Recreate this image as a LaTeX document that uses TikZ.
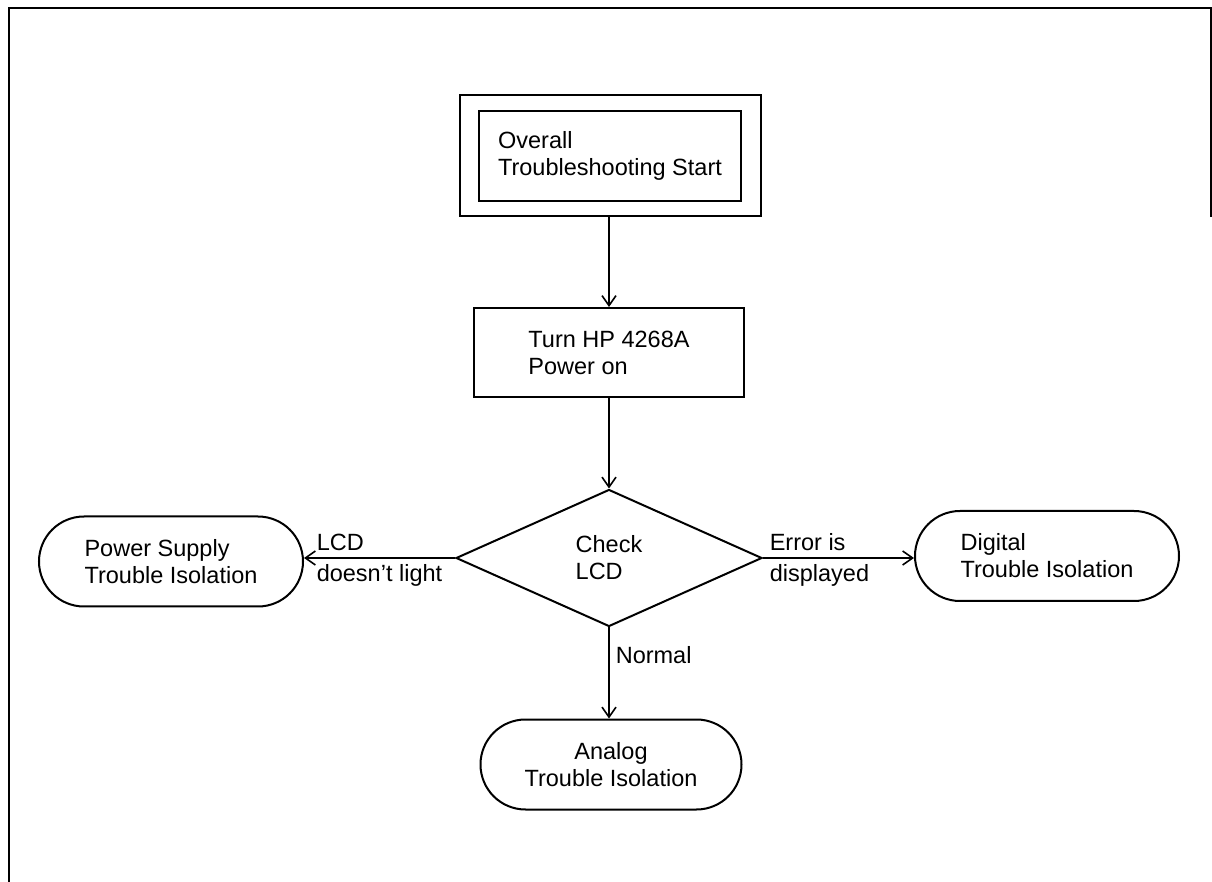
\documentclass[tikz,border=0pt]{standalone}
\usepackage{fontspec}
\setmainfont{Liberation Sans}
\usetikzlibrary{shapes.geometric,shapes.misc,arrows.meta,fit}

\begin{document}
\begin{tikzpicture}[x=0.5pt,y=-0.5pt,
  font=\fontsize{11.75}{13.5}\selectfont,
  procbox/.style={draw,line width=1pt,rectangle,align=left,inner sep=0pt},
  termbox/.style={draw,line width=1pt,rounded rectangle,minimum width=132pt,minimum height=45pt,inner sep=0pt},
  decision/.style={draw,line width=1pt,diamond,aspect=2.23,minimum width=153pt,minimum height=68.5pt,inner sep=0pt,align=left},
  flow/.style={line width=0.8pt,-{Straight Barb[length=5pt,width=7pt]}},
  lbl/.style={inner sep=3pt}]
\useasboundingbox (0,0) rectangle (1212,882);
% page frame
\draw[line width=1pt] (9,882) -- (9,8) -- (1211,8) -- (1211,217);
\node[procbox,minimum width=131pt,minimum height=45pt] (start) at (610,156) {Overall\\Troubleshooting Start};
\node[draw,line width=1pt,fit=(start),inner xsep=9.25pt,inner ysep=7.25pt] (startframe) {};
\node[procbox,minimum width=135pt,minimum height=44.5pt] (power) at (609,352.5) {Turn HP 4268A\\Power on};
\node[decision] (check) at (609,558) {Check\\LCD};
\node[termbox,align=left] (psu) at (171,561.5) {Power Supply\\Trouble Isolation};
\node[termbox,align=left] (digital) at (1047,556) {Digital\\Trouble Isolation};
\node[termbox,align=center,minimum width=130.5pt] (analog) at (611,764.5) {Analog\\Trouble Isolation};
% connectors
\draw[flow] (startframe.south -| power.north) -- (power.north);
\draw[flow] (power.south) -- (check.north);
\draw[flow] (check.west) -- (check.west -| psu.east)
  node[lbl,pos=1,anchor=south west,xshift=3pt] {LCD}
  node[lbl,pos=1,anchor=north west,xshift=3pt] {doesn't light};
\draw[flow] (check.east) -- (check.east -| digital.west)
  node[lbl,pos=0,anchor=south west] {Error is}
  node[lbl,pos=0,anchor=north west] {displayed};
\draw[flow] (check.south) -- (check.south |- analog.north)
  node[lbl,pos=0.3,anchor=west] {Normal};
\end{tikzpicture}
\end{document}
